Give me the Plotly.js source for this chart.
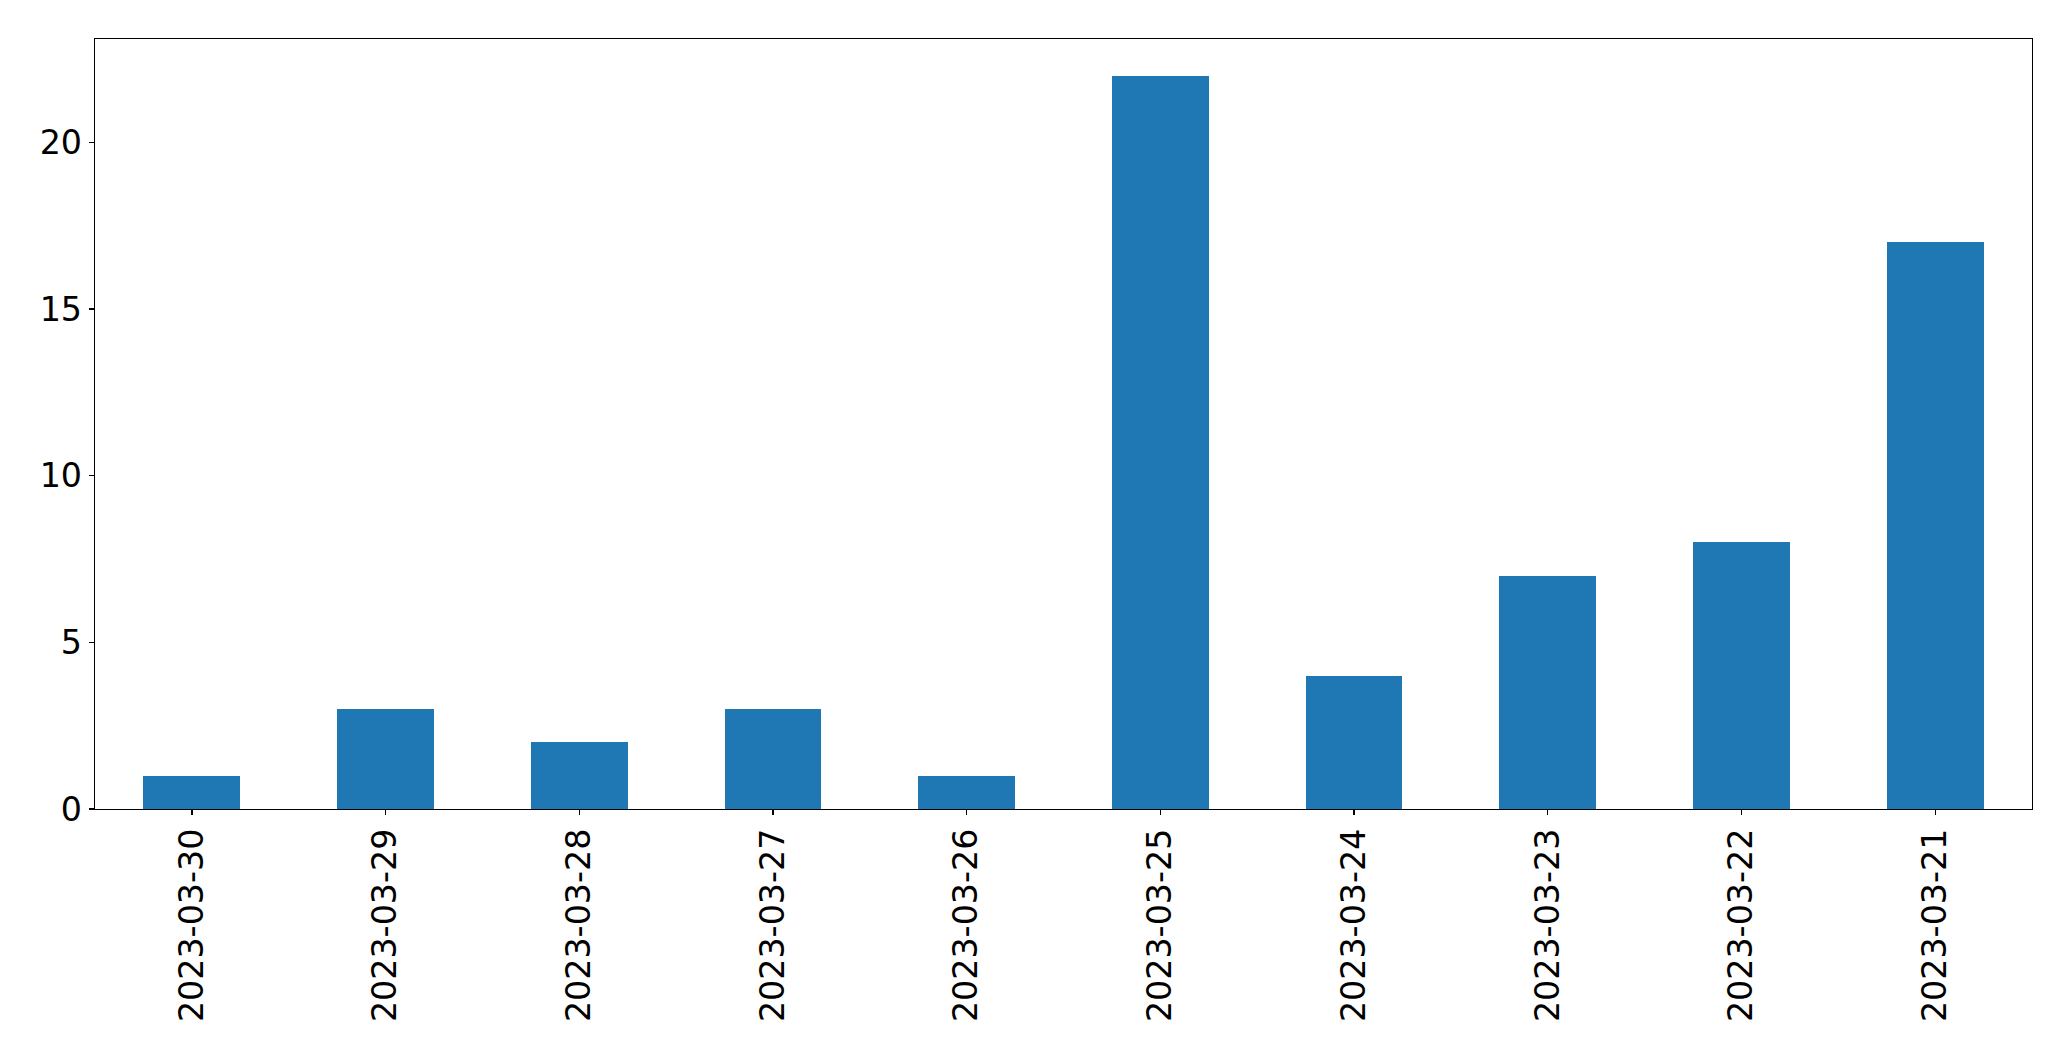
<!DOCTYPE html>
<html>
<head>
<meta charset="utf-8">
<script src="https://cdn.plot.ly/plotly-3.0.1.min.js"></script>
<style>html,body{margin:0;padding:0;background:#fff;}#chart{width:2071px;height:1061px;}</style>
</head>
<body>
<div id="chart"></div>
<script>
const categories = ["2023-03-30","2023-03-29","2023-03-28","2023-03-27","2023-03-26","2023-03-25","2023-03-24","2023-03-23","2023-03-22","2023-03-21"];
const counts = [1, 3, 2, 3, 1, 22, 4, 7, 8, 17];
const yTicks = [0, 5, 10, 15, 20];

const trace = {
  type: 'bar',
  x: categories,
  y: counts,
  width: 0.5,
  marker: {color: '#1f77b4', line: {width: 0}},
  hoverinfo: 'x+y'
};

const axisCommon = {
  showline: true, linecolor: '#000', linewidth: 1.3, mirror: true,
  ticks: 'outside', ticklen: 5, tickwidth: 1.3, tickcolor: '#000',
  showgrid: false, zeroline: false,
  tickfont: {family: 'DejaVu Sans', size: 33.3, color: '#000'}
};

const layout = {
  width: 2071, height: 1061,
  margin: {l: 94.5, r: 39.3, t: 39.3, b: 252},
  paper_bgcolor: '#fff', plot_bgcolor: '#fff',
  showlegend: false,
  bargap: 0,
  xaxis: Object.assign({}, axisCommon, {
    type: 'category', range: [-0.5, categories.length - 0.5],
    tickangle: -90, categoryorder: 'array', categoryarray: categories
  }),
  yaxis: Object.assign({}, axisCommon, {
    range: [0, Math.max(...counts) * 1.05],
    tickvals: yTicks, ticktext: yTicks.map(String)
  })
};

Plotly.newPlot('chart', [trace], layout, {displayModeBar: false, staticPlot: true});
</script>
</body>
</html>
